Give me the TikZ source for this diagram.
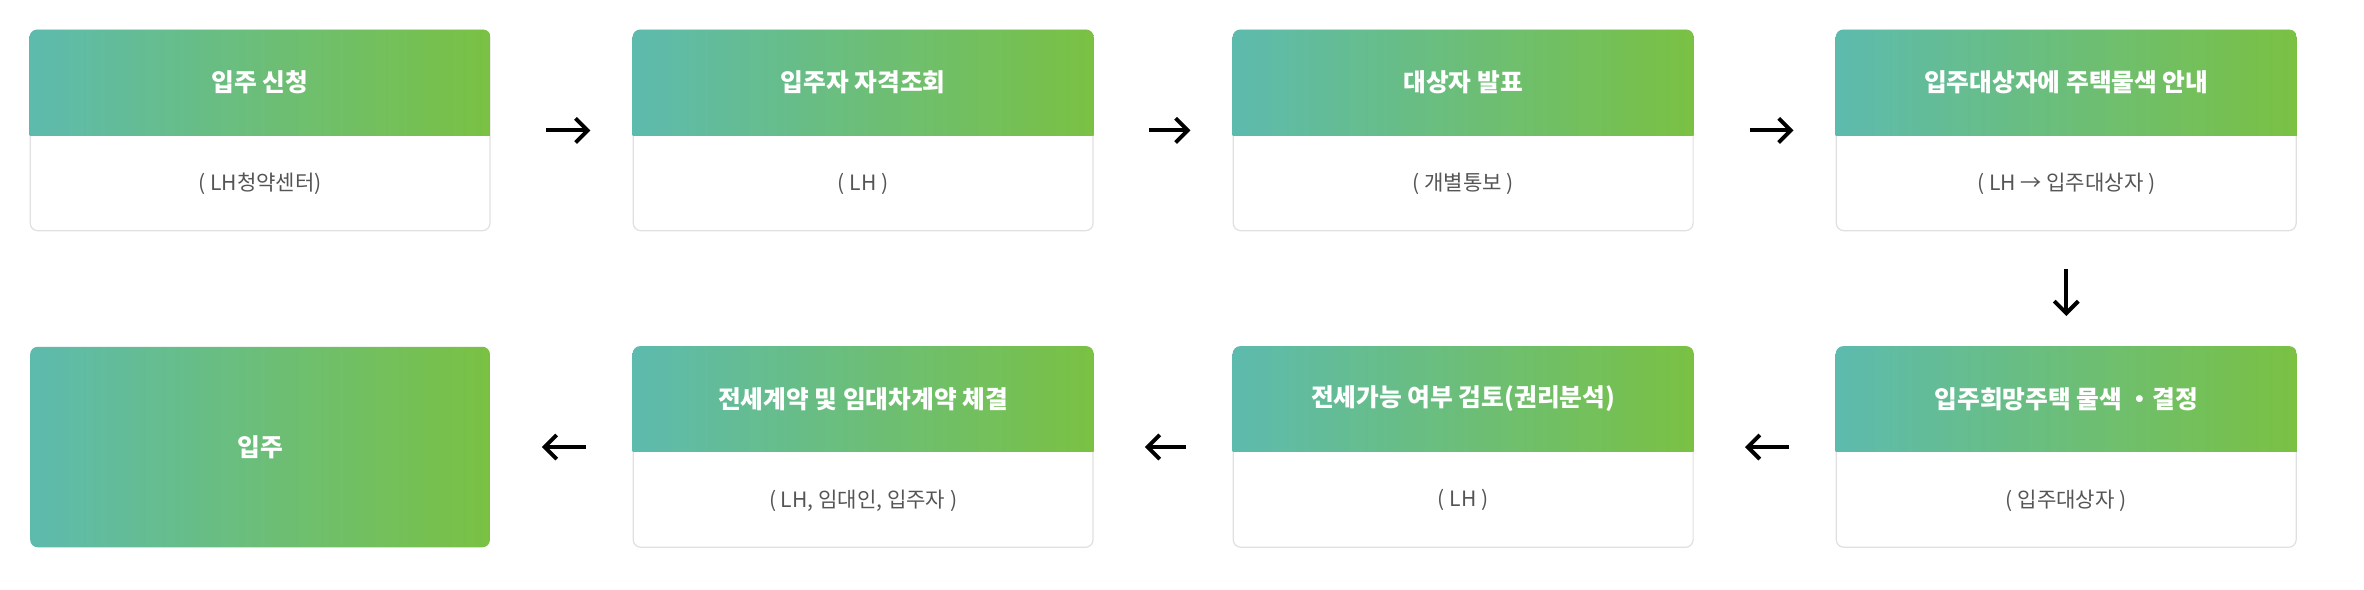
\documentclass[tikz,border=0pt]{standalone}
\usepackage{fontspec}
\setmainfont{Noto Sans CJK KR}
\usetikzlibrary{arrows.meta}
\definecolor{tealc}{HTML}{5DBBAE}
\definecolor{greenc}{HTML}{7AC143}
\definecolor{subc}{HTML}{555555}
\tikzset{
  box/.style={draw=black!12,fill=white,rounded corners=2.5pt,minimum width=152.5pt,minimum height=66.5pt,inner sep=0pt},
  hdr/.style={left color=tealc,right color=greenc},
  ttl/.style={text=white,font=\fontsize{8.2pt}{10pt}\selectfont\bfseries},
  sub/.style={text=subc,font=\fontsize{7pt}{9pt}\selectfont},
  arr/.style={-{Straight Barb[length=4pt,width=8pt]},line width=1.3pt}
}
\newcommand\flowbox[5]{%
  \node[box] (#1) at (#2+76.25pt,#3-33.25pt) {};
  \begin{scope}
    \clip[rounded corners=2.5pt] (#1.south west) rectangle (#1.north east);
    \shade[hdr] ([yshift=-35pt]#1.north west) rectangle (#1.north east);
  \end{scope}
  \node[ttl] (#1t) at ([yshift=-17.5pt]#1.north) {#4};
  \node[sub] (#1s) at ([yshift=15.75pt]#1.south) {#5};
}
\begin{document}
\begin{tikzpicture}
\useasboundingbox (0,0) rectangle (784pt,-195.5pt);
\flowbox{b1}{10pt}{-10pt}{입주 신청}{( LH청약센터)}
\flowbox{b2}{210pt}{-10pt}{입주자 자격조회}{( LH )}
\flowbox{b3}{409pt}{-10pt}{대상자 발표}{( 개별통보 )}
\flowbox{b4}{609pt}{-10pt}{입주대상자에 주택물색 안내}{( LH → 입주대상자 )}
\flowbox{b8}{609pt}{-115pt}{입주희망주택 물색 ・결정}{(  입주대상자 )}
\flowbox{b7}{409pt}{-115pt}{전세가능 여부 검토(권리분석)}{( LH )}
\flowbox{b6}{210pt}{-115pt}{전세계약 및 임대차계약 체결}{( LH, 임대인, 입주자 )}
\node[box,draw=none,hdr] (b5) at (86.25pt,-148.25pt) {};
\node[ttl] (b5t) at (b5) {입주};
\draw[arr,shorten <=18.5pt,shorten >=14pt] (b1) -- (b2);
\draw[arr,shorten <=18.5pt,shorten >=14pt] (b2) -- (b3);
\draw[arr,shorten <=18.5pt,shorten >=14pt] (b3) -- (b4);
\draw[arr,shorten <=12.5pt,shorten >=10pt] (b4) -- (b8);
\draw[arr,shorten <=15.5pt,shorten >=17pt] (b8) -- (b7);
\draw[arr,shorten <=15.5pt,shorten >=17pt] (b7) -- (b6);
\draw[arr,shorten <=15.5pt,shorten >=17pt] (b6) -- (b5);
\end{tikzpicture}
\end{document}
